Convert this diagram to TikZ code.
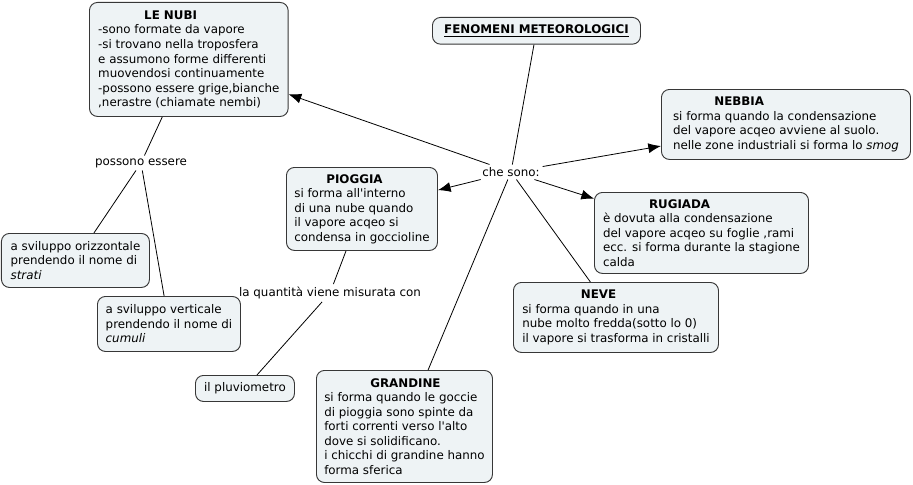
\documentclass[tikz,border=0pt]{standalone}
\usepackage{fontspec}
\setmainfont{DejaVu Sans}
\usepackage{xcolor}
\usepackage{tikz}
\usetikzlibrary{arrows.meta}

\definecolor{boxfill}{RGB}{238,243,245}
\definecolor{boxline}{RGB}{55,55,55}
\newcommand{\titolo}[2]{\hspace*{#1}\textbf{#2}\\}

\tikzset{
  concetto/.style={draw=boxline, fill=boxfill, line width=0.7pt, rounded corners=6pt,
    anchor=north west, align=left, inner xsep=5pt, inner ysep=3pt,
    font=\fontsize{8.9}{10.9}\selectfont},
  legame/.style={font=\fontsize{8.9}{10.9}\selectfont, inner sep=2pt},
  linea/.style={line width=0.6pt},
  freccia/.style={line width=0.6pt, -{Latex[length=9.5pt,width=7.5pt]}}
}

\begin{document}
\begin{tikzpicture}[x=0.75pt,y=-0.75pt]
    \useasboundingbox (0,0) rectangle (913,485);
    % concetti
    \node[concetto, align=center, minimum width=156pt, minimum height=20pt] (fenomeni) at (432,17)
        {\underline{\textbf{FENOMENI METEOROLOGICI}}};
    \node[concetto, minimum width=149pt, minimum height=85.5pt] (nubi) at (89,2)
        {\titolo{34.5pt}{LE NUBI}-sono formate da vapore\\-si trovano nella troposfera\\e assumono forme differenti\\muovendosi continuamente\\-possono essere grige,bianche\\,nerastre (chiamate nembi)};
    \node[concetto, minimum width=186.75pt, minimum height=52.5pt] (nebbia) at (661,89)
        {\titolo{31pt}{NEBBIA}si forma quando la condensazione\\del vapore acqeo avviene al suolo.\\nelle zone industriali si forma lo \textit{smog}};
    \node[concetto, minimum width=113.25pt, minimum height=62.25pt] (pioggia) at (286,167)
        {\titolo{24pt}{PIOGGIA}si forma all\textquotesingle interno\\di una nube quando\\il vapore acqeo si\\condensa in goccioline};
    \node[concetto, minimum width=160.5pt, minimum height=60.75pt] (rugiada) at (594,192)
        {\titolo{34.5pt}{RUGIADA}è dovuta alla condensazione\\del vapore acqeo su foglie ,rami\\ecc. si forma durante la stagione\\calda};
    \node[concetto, minimum width=153.75pt, minimum height=52.5pt] (neve) at (513,282)
        {\titolo{44pt}{NEVE}si forma quando in una\\nube molto fredda(sotto lo 0)\\il vapore si trasforma in cristalli};
    \node[concetto, minimum width=132pt, minimum height=84pt] (grandine) at (316,370)
        {\titolo{34.5pt}{GRANDINE}si forma quando le goccie\\di pioggia sono spinte da\\forti correnti verso l\textquotesingle alto\\dove si solidificano.\\i chicchi di grandine hanno\\forma sferica};
    \node[concetto, minimum width=111pt, minimum height=40.5pt] (strati) at (1,233)
        {a sviluppo orizzontale\\prendendo il nome di\\\textit{strati}};
    \node[concetto, minimum width=107.25pt, minimum height=41.25pt] (cumuli) at (97,296)
        {a sviluppo verticale\\prendendo il nome di\\\textit{cumuli}};
    \node[concetto, minimum width=74.25pt, minimum height=19.5pt] (pluviometro) at (195,375)
        {il pluviometro};
    % parole legame
    \node[legame] (chesono) at (511,172) {che sono:};
    \node[legame] (possono) at (141,163) {possono essere};
    \node[legame] (quantita) at (330,293) {la quantità viene misurata con};
    % connessioni
    \draw[linea] (fenomeni) -- (chesono);
    \draw[freccia] (chesono) -- (nubi);
    \draw[freccia] (chesono) -- (nebbia);
    \draw[freccia] (chesono) -- (pioggia);
    \draw[freccia] (chesono) -- (rugiada);
    \draw[linea] (chesono) -- (neve);
    \draw[linea] (chesono) -- (grandine);
    \draw[linea] (nubi) -- (possono);
    \draw[linea] (possono) -- (strati);
    \draw[linea] (possono) -- (cumuli);
    \draw[linea] (pioggia) -- (quantita);
    \draw[linea] (quantita) -- (pluviometro);
\end{tikzpicture}
\end{document}
